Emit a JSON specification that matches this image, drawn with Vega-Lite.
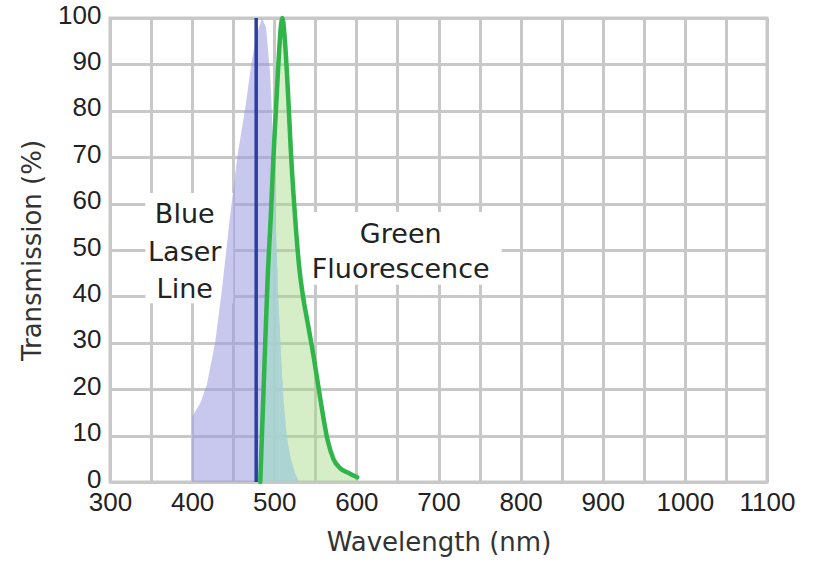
{
  "$schema": "https://vega.github.io/schema/vega-lite/v6.json",
  "width": 657,
  "height": 464,
  "autosize": {"type": "none"},
  "padding": {"left": 110, "top": 18, "right": 52, "bottom": 81},
  "background": "white",
  "config": {
    "view": {"stroke": "#c8c8c8", "strokeWidth": 3},
    "font": "Liberation Sans",
    "axis": {
      "grid": true,
      "gridColor": "#c8c8c8",
      "gridWidth": 3,
      "gridOpacity": 1,
      "domain": false,
      "ticks": false,
      "labelFont": "Liberation Sans",
      "labelFontSize": 26,
      "labelColor": "#222222",
      "labelFlush": false,
      "labelOverlap": false,
      "titleFont": "DejaVu Sans",
      "titleFontSize": 26,
      "titleFontWeight": "normal",
      "titleColor": "#333333"
    }
  },
  "datasets": {
    "boxes": [
      {"x1": 343, "x2": 450, "y1": 38.5, "y2": 62.3},
      {"x1": 531, "x2": 777, "y1": 42.5, "y2": 58.2}
    ],
    "excitation": [
      {"wl": 400, "t": 0}, {"wl": 400, "t": 14}, {"wl": 410, "t": 17}, {"wl": 418, "t": 21},
      {"wl": 428, "t": 30}, {"wl": 436, "t": 41}, {"wl": 446, "t": 57}, {"wl": 455, "t": 70},
      {"wl": 465, "t": 81}, {"wl": 472, "t": 90}, {"wl": 478, "t": 96}, {"wl": 485, "t": 100},
      {"wl": 490, "t": 98}, {"wl": 495, "t": 88}, {"wl": 499, "t": 72}, {"wl": 502, "t": 55},
      {"wl": 505, "t": 39}, {"wl": 508, "t": 28}, {"wl": 511, "t": 18}, {"wl": 515, "t": 10},
      {"wl": 520, "t": 5}, {"wl": 525, "t": 2}, {"wl": 530, "t": 0}
    ],
    "overlap": [
      {"wl": 483, "t": 0}, {"wl": 486, "t": 15}, {"wl": 489, "t": 30}, {"wl": 492, "t": 44},
      {"wl": 496, "t": 58}, {"wl": 499, "t": 70}, {"wl": 502, "t": 55}, {"wl": 505, "t": 39},
      {"wl": 508, "t": 28}, {"wl": 511, "t": 18}, {"wl": 515, "t": 10}, {"wl": 520, "t": 5},
      {"wl": 525, "t": 2}, {"wl": 530, "t": 0}
    ],
    "emission": [
      {"wl": 483, "t": 0}, {"wl": 486, "t": 15}, {"wl": 489, "t": 30}, {"wl": 492, "t": 44},
      {"wl": 496, "t": 58}, {"wl": 499, "t": 70}, {"wl": 502, "t": 80}, {"wl": 505, "t": 90},
      {"wl": 508, "t": 98}, {"wl": 510, "t": 100}, {"wl": 513, "t": 95}, {"wl": 517, "t": 83},
      {"wl": 520, "t": 72}, {"wl": 525, "t": 58}, {"wl": 530, "t": 47}, {"wl": 535, "t": 40},
      {"wl": 540, "t": 35}, {"wl": 548, "t": 27}, {"wl": 556, "t": 18}, {"wl": 565, "t": 9},
      {"wl": 572, "t": 5}, {"wl": 580, "t": 3}, {"wl": 590, "t": 2}, {"wl": 601, "t": 1}
    ],
    "laser": [{"wl": 478, "t0": 0, "t1": 100}],
    "labels": [
      {"wl": 391, "t": 57.5, "text": "Blue"},
      {"wl": 391, "t": 49.4, "text": "Laser"},
      {"wl": 391, "t": 41.4, "text": "Line"},
      {"wl": 654, "t": 53.2, "text": "Green"},
      {"wl": 654, "t": 45.7, "text": "Fluorescence"}
    ]
  },
  "layer": [
    {
      "data": {"name": "boxes"},
      "mark": {"type": "rect", "fill": "white"},
      "encoding": {
        "x": {"field": "x1", "type": "quantitative", "scale": {"domain": [300, 1100], "nice": false, "zero": false},
              "axis": {"title": "Wavelength (nm)", "values": [300,350,400,450,500,550,600,650,700,750,800,850,900,950,1000,1050,1100],
                       "labelExpr": "datum.value % 100 == 0 ? datum.label : ''", "labelPadding": 7, "titlePadding": 14, "format": "d"}},
        "x2": {"field": "x2"},
        "y": {"field": "y1", "type": "quantitative", "scale": {"domain": [0, 100], "nice": false},
              "axis": {"title": "Transmission (%)", "values": [0,10,20,30,40,50,60,70,80,90,100], "labelPadding": 9, "labelOffset": -3, "titlePadding": 12}},
        "y2": {"field": "y2"}
      }
    },
    {
      "data": {"name": "excitation"},
      "mark": {"type": "area", "color": "#9a9ae0", "opacity": 0.55},
      "encoding": {
        "x": {"field": "wl", "type": "quantitative"},
        "y": {"field": "t", "type": "quantitative"},
        "order": {"value": 0}
      }
    },
    {
      "data": {"name": "emission"},
      "mark": {"type": "area", "color": "#a3da84", "opacity": 0.45},
      "encoding": {
        "x": {"field": "wl", "type": "quantitative"},
        "y": {"field": "t", "type": "quantitative"},
        "order": {"value": 0}
      }
    },
    {
      "data": {"name": "overlap"},
      "mark": {"type": "area", "color": "#a6d5dc", "opacity": 0.7},
      "encoding": {
        "x": {"field": "wl", "type": "quantitative"},
        "y": {"field": "t", "type": "quantitative"},
        "order": {"value": 0}
      }
    },
    {
      "data": {"name": "laser"},
      "mark": {"type": "rule", "color": "#2b3fa3", "strokeWidth": 3.5},
      "encoding": {
        "x": {"field": "wl", "type": "quantitative"},
        "y": {"field": "t0", "type": "quantitative"},
        "y2": {"field": "t1"}
      }
    },
    {
      "data": {"name": "emission"},
      "mark": {"type": "line", "color": "#2fb54a", "strokeWidth": 4.5, "strokeCap": "round", "strokeJoin": "round", "interpolate": "monotone"},
      "encoding": {
        "x": {"field": "wl", "type": "quantitative"},
        "y": {"field": "t", "type": "quantitative"},
        "order": {"value": 0}
      }
    },
    {
      "data": {"name": "labels"},
      "mark": {"type": "text", "fontSize": 27, "color": "#222222", "align": "center", "baseline": "middle", "font": "DejaVu Sans"},
      "encoding": {
        "x": {"field": "wl", "type": "quantitative"},
        "y": {"field": "t", "type": "quantitative"},
        "text": {"field": "text"}
      }
    }
  ]
}
